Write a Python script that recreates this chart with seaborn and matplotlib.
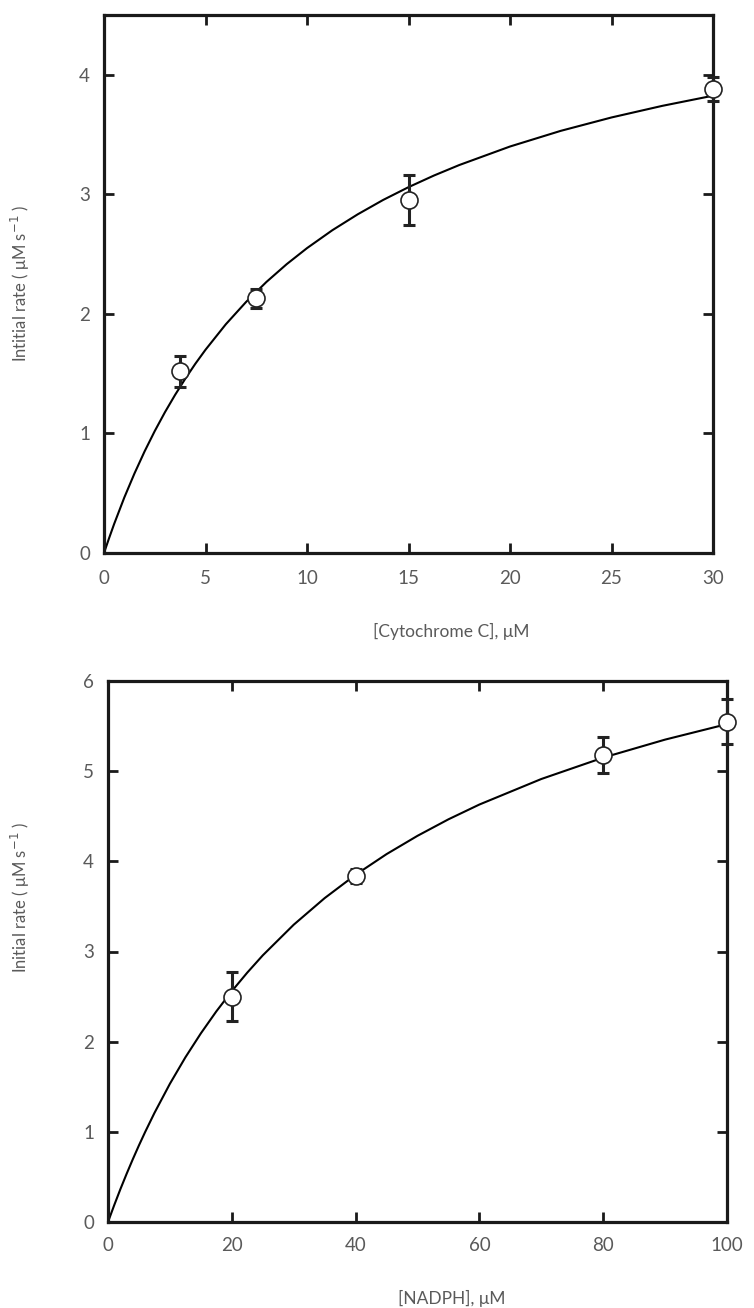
import numpy as np
import pandas as pd
import matplotlib
matplotlib.use("Agg")
import matplotlib.pyplot as plt
import seaborn as sns

# ---- data: top panel (Cytochrome C) ----
cyt_x = [3.75, 7.5, 15, 30]
cyt_y = [1.52, 2.13, 2.95, 3.88]
cyt_err = [0.13, 0.08, 0.21, 0.10]
cyt_fit_x = [0, 0.25, 0.5, 1, 1.5, 2, 2.5, 3, 3.5, 4, 4.5, 5, 6, 7, 8, 9, 10,
             11.25, 12.5, 13.75, 15, 16.25, 17.5, 20, 22.5, 25, 27.5, 30]
cyt_fit_y = [0, 0.124, 0.243, 0.464, 0.665, 0.85, 1.02, 1.177, 1.322, 1.457, 1.583,
             1.70, 1.913, 2.10, 2.267, 2.416, 2.55, 2.70, 2.833, 2.953, 3.06, 3.157,
             3.245, 3.40, 3.531, 3.643, 3.74, 3.825]
cyt_xticks = [0, 5, 10, 15, 20, 25, 30]
cyt_yticks = [0, 1, 2, 3, 4]

# ---- data: bottom panel (NADPH) ----
nad_x = [20, 40, 80, 100]
nad_y = [2.50, 3.84, 5.18, 5.55]
nad_err = [0.27, 0.08, 0.20, 0.25]
nad_fit_x = [0, 1, 2, 3, 4, 5, 6, 7.5, 10, 12.5, 15, 17.5, 20, 22.5, 25, 30, 35, 40,
             45, 50, 55, 60, 70, 80, 90, 100]
nad_fit_y = [0, 0.186, 0.364, 0.533, 0.695, 0.85, 0.998, 1.209, 1.533, 1.826, 2.092,
             2.336, 2.56, 2.766, 2.957, 3.297, 3.592, 3.851, 4.08, 4.283, 4.466, 4.63,
             4.913, 5.15, 5.35, 5.522]
nad_xticks = [0, 20, 40, 60, 80, 100]
nad_yticks = [0, 1, 2, 3, 4, 5, 6]

sns.set_theme(style="ticks")
plt.rcParams['font.family'] = ['Lato', 'DejaVu Sans']
plt.rcParams['mathtext.fontset'] = 'dejavusans'

fig = plt.figure(figsize=(7.54, 13.08), dpi=100)
ax1 = fig.add_axes([104/754, 1 - 553/1308, 609/754, 538/1308])
ax2 = fig.add_axes([108/754, 1 - 1222/1308, 619/754, 541/1308])

txt_col = "#5a5a5a"


def panel(ax, fx, fy, px, py, pe, xt, yt, xlim, ylim, xlabel, ylabel, xlab_pos, ylab_pos, xpad, ypad):
    sns.lineplot(x=fx, y=fy, ax=ax, color="black", linewidth=1.5, sort=True, zorder=2)
    ax.errorbar(px, py, yerr=pe, fmt="none", ecolor="#222222", elinewidth=2.2,
                capsize=4, capthick=2.2, zorder=3, clip_on=False)
    df = pd.DataFrame({"x": px, "y": py})
    sns.scatterplot(data=df, x="x", y="y", ax=ax, s=150, color="white",
                    edgecolor="#222222", linewidth=1.2, zorder=4, clip_on=False)
    ax.set_xlim(*xlim)
    ax.set_ylim(*ylim)
    ax.set_xticks(xt)
    ax.set_yticks(yt)
    for s in ax.spines.values():
        s.set_linewidth(2.3)
        s.set_color("#1a1a1a")
    ax.tick_params(direction="in", length=7, width=2, top=True, right=True,
                   colors="#1a1a1a", labelcolor=txt_col, labelsize=13.5)
    ax.tick_params(axis="x", pad=xpad)
    ax.tick_params(axis="y", pad=ypad)
    ax.set_xlabel(xlabel, fontsize=12.5, color=txt_col)
    ax.set_ylabel(ylabel, fontsize=12, color=txt_col)
    ax.xaxis.set_label_coords(*xlab_pos)
    ax.yaxis.set_label_coords(*ylab_pos)


panel(ax1, cyt_fit_x, cyt_fit_y, cyt_x, cyt_y, cyt_err, cyt_xticks, cyt_yticks,
      (0, 30), (0, 4.5), "[Cytochrome C], μM", "Intitial rate ( μM s$^{-1}$ )",
      (0.571, -0.13), (-0.118, 0.5), 12, 10)
panel(ax2, nad_fit_x, nad_fit_y, nad_x, nad_y, nad_err, nad_xticks, nad_yticks,
      (0, 100), (0, 6), "[NADPH], μM", "Initial rate ( μM s$^{-1}$ )",
      (0.556, -0.126), (-0.122, 0.6), 11, 10)

fig.savefig("out.png", dpi=100)
